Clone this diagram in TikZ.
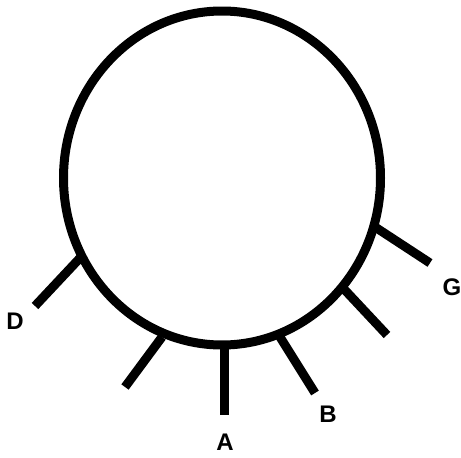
\documentclass[tikz,border=0pt]{standalone}
\usepackage{fontspec}
\setmainfont{Liberation Sans}
\begin{document}
\begin{tikzpicture}[x=1pt,y=-1pt,
  rim/.style={line width=9pt},
  tick/.style={line width=9pt,line cap=butt},
  lbl/.style={font=\fontsize{24}{24}\selectfont\bfseries,inner sep=0pt}]
\useasboundingbox (0,0) rectangle (461,458);
\draw[rim] (222,178) ellipse [x radius=158.5, y radius=167];
% inner ends on the rim
\coordinate (dIn) at (80,258);
\coordinate (lIn) at (162,337);
\coordinate (aIn) at (224,343);
\coordinate (bIn) at (280,337);
\coordinate (rIn) at (343,288);
\coordinate (gIn) at (375,227);
% outer ends
\coordinate (dOut) at (35,306);
\coordinate (lOut) at (125,387);
\coordinate (aOut) at (224,415);
\coordinate (bOut) at (315,393);
\coordinate (rOut) at (387,335);
\coordinate (gOut) at (430,263);
\draw[tick] (dIn) -- (dOut);
\draw[tick] (lIn) -- (lOut);
\draw[tick] (aIn) -- (aOut);
\draw[tick] (bIn) -- (bOut);
\draw[tick] (rIn) -- (rOut);
\draw[tick] (gIn) -- (gOut);
\node[lbl] (D) at (15,321) {D};
\node[lbl] (A) at (225,442) {A};
\node[lbl] (B) at (328,414) {B};
\node[lbl] (G) at (452,287) {G};
\end{tikzpicture}
\end{document}
